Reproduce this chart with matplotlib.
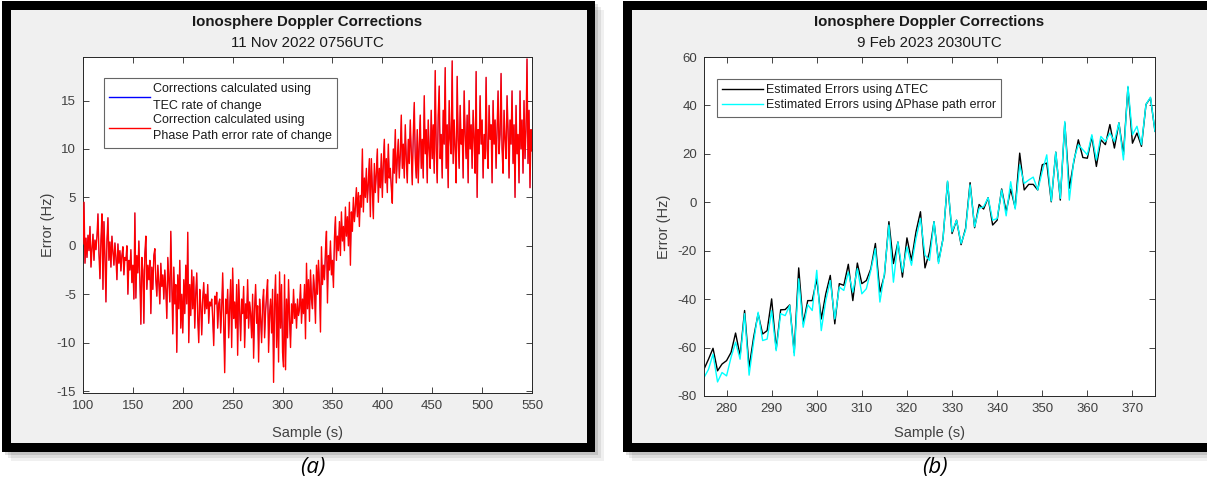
import numpy as np
import matplotlib.pyplot as plt
from matplotlib.patches import Rectangle

plt.rcParams['font.family'] = ['Liberation Sans', 'DejaVu Sans']
plt.rcParams['axes.unicode_minus'] = False

# panel (a): 11 Nov 2022, one sample per second from 100 to 550
samples_a = np.arange(100, 551)
phase_a = [
    0.2, 4.5, -1.8, 0.8, -1.2, 1.1, -0.5, 2.0, -2.2, -0.3,
    1.2, -1.5, 0.6, -0.4, 1.0, 3.3, -0.8, -3.4, 0.6, 3.3,
    -4.5, 2.5, -1.0, -5.8, 0.5, 2.9, -1.5, 0.4, -2.2, 1.0,
    -0.6, -2.0, 0.3, -1.2, -3.5, 0.2, -1.8, -0.5, -2.6, -1.0,
    -0.1, -3.0, -1.2, -1.5, 0.0, -5.0, -1.5, -2.5, -0.4, -3.8,
    -2.0, -5.5, 3.4, -5.4, -1.0, -2.8, 0.5, -3.5, -8.1, -1.2,
    -2.5, -8.0, -0.8, 1.0, -4.5, -2.0, -3.5, -1.5, -7.0, -2.2,
    -4.5, -1.0, -0.3, -3.5, -5.2, -2.0, -3.8, -6.0, -1.8, -4.2,
    -3.0, -5.5, -2.5, -4.5, -7.5, -1.2, -3.5, -5.8, 1.5, -4.0,
    -9.1, -2.2, -6.0, -4.0, -11.0, -3.0, -6.5, -1.5, -8.5, -5.0,
    -9.0, -3.5, -7.0, -2.0, -6.0, 1.4, -10.0, -4.0, -7.2, -2.5,
    -6.5, -3.2, -8.5, -5.0, -2.8, -7.5, -10.0, -4.5, -6.0, -9.2,
    -5.5, -3.8, -7.0, -5.0, -6.5, -4.0, -8.0, -5.8, -6.2, -5.5,
    -7.5, -10.3, -5.2, -6.0, -4.8, -8.5, -6.0, -5.5, -9.0, -6.5,
    -2.8, -8.0, -13.1, -5.5, -7.0, -4.5, -9.5, -6.5, -3.5, -10.5,
    -2.3, -7.5, -5.8, -8.5, -4.0, -11.3, -3.5, -6.8, -9.8, -5.5,
    -7.0, -4.2, -10.5, -6.0, -7.5, -3.5, -8.5, -5.8, -7.0, -9.5,
    -5.0, -11.6, -6.5, -4.0, -8.0, -6.2, -12.0, -5.5, -7.5, -10.0,
    -6.0, -4.5, -9.5, -6.8, -5.0, -3.5, -11.0, -7.0, -5.5, -9.0,
    -4.5, -14.1, -6.0, -3.0, -10.5, -5.0, -12.0, -2.7, -8.5, -4.0,
    -11.0, -12.5, -3.0, -12.8, -5.5, -9.5, -3.5, -7.5, -10.5, -6.0,
    -8.0, -4.5, -7.5, -6.0, -8.5, -5.5, -7.2, -6.5, -4.0, -8.0,
    -5.5, -7.0, -4.0, -9.6, -1.8, -6.5, -3.5, -7.8, -2.5, -5.5,
    -6.5, -3.0, -4.5, -8.0, -2.0, -5.0, -1.5, -4.0, -8.9, -0.1,
    -4.0, -2.0, -3.5, -0.5, 1.5, -5.9, -1.0, -2.5, 0.5, -3.0,
    -1.5, -4.3, 0.8, 3.0, -1.5, 1.0, -0.5, 2.5, -1.0, 3.5,
    0.5, 2.0, -0.5, 4.0, 1.0, 3.0, 0.0, 4.5, -2.0, 3.5,
    1.5, 5.0, 2.5, 4.0, 6.0, 3.0, 5.5, 2.0, 5.2, 4.0,
    10.0, 3.5, 7.0, 5.0, 8.0, 4.5, 6.5, 9.0, 3.0, 9.0,
    6.0, 2.8, 8.5, 5.5, 7.5, 10.0, 4.5, 8.0, 6.0, 9.5,
    5.0, 8.5, 11.0, 6.5, 9.0, 5.5, 10.5, 7.0, 8.0, 6.0,
    4.4, 10.0, 7.5, 12.0, 6.5, 9.0, 11.0, 7.0, 9.5, 13.5,
    8.0, 10.5, 7.0, 12.5, 9.0, 6.5, 11.0, 8.5, 13.0, 9.5,
    6.3, 11.5, 14.8, 9.0, 7.0, 12.0, 6.5, 10.5, 13.5, 8.0,
    11.0, 7.0, 15.5, 9.5, 12.0, 6.5, 13.0, 10.0, 8.0, 14.0,
    9.0, 12.5, 7.5, 18.1, 10.0, 6.5, 13.5, 16.5, 9.0, 11.5,
    7.0, 14.0, 10.5, 18.4, 8.0, 12.5, 6.0, 15.0, 11.0, 9.5,
    19.1, 8.5, 13.0, 10.0, 6.5, 17.5, 11.0, 8.0, 14.5, 10.5,
    12.0, 7.0, 16.0, 11.5, 9.0, 13.5, 6.5, 15.0, 10.0, 12.5,
    8.0, 14.0, 11.0, 7.5, 18.0, 5.0, 12.0, 9.5, 15.5, 10.5,
    13.0, 7.0, 11.5, 9.0, 17.4, 10.0, 8.0, 14.5, 11.0, 12.5,
    6.5, 15.0, 10.5, 13.0, 8.0, 12.0, 16.0, 9.5, 11.5, 17.8,
    10.0, 7.5, 14.0, 11.0, 9.0, 15.5, 12.0, 7.0, 13.0, 10.5,
    16.0, 8.5, 12.5, 5.0, 14.5, 9.5, 11.5, 6.5, 16.0, 10.0,
    13.0, 7.5, 15.0, 9.0, 12.0, 19.3, 8.5, 14.0, 6.0, 12.0,
    9.8,
]
# TEC based corrections sit almost exactly under the phase path ones
tec_a = list(phase_a)

# panel (b): 9 Feb 2023, samples 275 to 375
samples_b = np.arange(275, 376)
tec_b = [
    -68.9, -64.8, -60.3, -69.6, -66.8, -65.4, -62.0, -54.0, -63.4, -44.7,
    -68.2, -55.8, -46.0, -54.4, -53.0, -39.9, -60.6, -44.4, -44.3, -42.4,
    -62.0, -27.1, -50.2, -40.6, -40.6, -31.6, -48.2, -37.8, -30.2, -50.2,
    -33.6, -34.3, -25.6, -40.6, -25.1, -33.6, -32.3, -27.4, -17.0, -37.1,
    -30.2, -8.0, -25.3, -16.4, -30.9, -14.7, -24.0, -12.2, -3.9, -27.1,
    -20.5, -8.0, -24.6, -15.0, 8.5, -12.9, -7.4, -17.5, -10.8, 8.1,
    -10.5, -0.9, -2.8, 1.9, -9.4, -7.4, 5.5, -3.9, 5.4, -2.2,
    20.3, 5.1, 7.4, 7.4, 5.1, 15.5, 16.2, 0.2, 20.7, 0.9,
    32.8, 5.8, 16.8, 25.8, 18.5, 18.2, 27.2, 14.8, 25.8, 23.8,
    32.1, 22.4, 32.8, 19.6, 47.5, 24.4, 28.6, 23.1, 40.4, 43.1,
    29.3,
]
phase_b = [
    -72.4, -69.0, -62.7, -74.2, -70.3, -71.7, -64.0, -57.8, -64.8, -46.0,
    -71.4, -57.8, -45.4, -57.1, -56.5, -44.7, -61.3, -46.0, -46.8, -42.6,
    -63.4, -31.6, -51.6, -42.3, -44.7, -28.1, -53.0, -40.6, -32.3, -48.2,
    -35.0, -36.4, -28.8, -37.1, -27.4, -37.8, -35.7, -28.1, -19.1, -41.2,
    -29.5, -9.4, -33.0, -16.4, -28.8, -18.4, -26.0, -15.0, -6.7, -21.8,
    -24.0, -8.0, -25.3, -15.0, 8.8, -12.2, -7.4, -17.0, -11.5, 7.2,
    -10.1, -2.5, -1.8, 1.9, -7.4, -6.7, 5.1, -5.6, 8.5, -2.8,
    15.4, 7.8, 9.2, 10.4, 5.1, 12.7, 19.6, 0.5, 20.7, 1.6,
    33.4, 0.9, 17.5, 23.8, 21.7, 19.6, 27.9, 17.5, 27.2, 25.1,
    28.6, 25.1, 32.8, 17.5, 47.9, 27.9, 31.4, 23.8, 40.4, 43.4,
    29.3,
]

W, H = 1207, 488
fig = plt.figure(figsize=(W / 100, H / 100), dpi=100, facecolor='white')


def box(x0, y0, x1, y1):
    # pixel box (top-left origin) -> figure fraction rect
    return [x0 / W, 1 - y1 / H, (x1 - x0) / W, (y1 - y0) / H]


def rect(x0, y0, x1, y1, color, z, alpha=1.0):
    l, b, w, h = box(x0, y0, x1, y1)
    fig.add_artist(Rectangle((l, b), w, h, transform=fig.transFigure,
                             facecolor=color, edgecolor='none', alpha=alpha, zorder=z))


def frame(x0, y0, x1, y1):
    # drop shadow, thick black border, matlab grey window
    for k, a in [(9, 0.06), (6, 0.08), (3, 0.12)]:
        rect(x0 + k, y0 + k, x1 + k, y1 + k, 'black', -10, a)
    rect(x0, y0, x1, y1, 'black', -9)
    rect(x0 + 9, y0 + 9, x1 - 8, y1 - 9, '#f0f0f0', -8)


frame(2, 1, 595, 452)
frame(623, 1, 1230, 452)

dark = '#262626'


def style(ax):
    ax.set_facecolor('white')
    for s in ax.spines.values():
        s.set_color(dark)
        s.set_linewidth(0.7)
    ax.tick_params(direction='in', top=True, right=True, length=4, width=0.6,
                   colors=dark, labelsize=9.5, pad=5)
    for lab in ax.get_xticklabels() + ax.get_yticklabels():
        lab.set_color('#404040')


def legend(ax, anchor, spacing, pad, size):
    leg = ax.legend(loc='upper left', bbox_to_anchor=anchor, borderaxespad=0,
                    fontsize=size, frameon=True, fancybox=False, edgecolor='#404040',
                    handlelength=3.3, handletextpad=0.25, borderpad=pad,
                    labelspacing=spacing)
    leg.get_frame().set_linewidth(0.8)
    for t in leg.get_texts():
        t.set_linespacing(1.5)
        t.set_color('#1a1a1a')
    return leg


ax1 = fig.add_axes(box(83, 57, 532, 393))
ax1.plot(samples_a, tec_a, color='blue', lw=0.4, zorder=2,
         label='Corrections calculated using\nTEC rate of change')
ax1.plot(samples_a, phase_a, color='red', lw=1.0, zorder=3,
         label='Correction calculated using\nPhase Path error rate of change')
ax1.set_xlim(100, 550)
ax1.set_ylim(-15.2, 19.5)
ax1.set_xticks(np.arange(100, 551, 50))
ax1.set_yticks(np.arange(-15, 16, 5))
style(ax1)
leg1 = legend(ax1, (0.047, 0.9375), 0.2, 0.4, 9)
leg1.get_lines()[0].set_linewidth(1.0)

ax2 = fig.add_axes(box(704, 57, 1155, 396))
ax2.plot(samples_b, tec_b, color='black', lw=1.0, label='Estimated Errors using ΔTEC')
ax2.plot(samples_b, phase_b, color='cyan', lw=1.0,
         label='Estimated Errors using ΔPhase path error')
ax2.set_xlim(275, 375)
ax2.set_ylim(-80, 60)
ax2.set_xticks(np.arange(280, 371, 10))
ax2.set_yticks(np.arange(-80, 61, 20))
style(ax2)
legend(ax2, (0.029, 0.935), 0.25, 0.42, 8.9)

for ax, cx, xl_y, yl_x, sub in [(ax1, 307.5, 433, 48, '11 Nov 2022 0756UTC'),
                                (ax2, 929.5, 433, 664, '9 Feb 2023 2030UTC')]:
    ax.set_xlabel('Sample (s)', fontsize=10.5, color='#404040', va='center')
    ax.set_ylabel('Error (Hz)', fontsize=10.5, color='#404040', va='center')
    pos = ax.get_position()
    ax.xaxis.set_label_coords(0.5, 1 - ((xl_y / H) - (1 - pos.y1)) / pos.height)
    ax.yaxis.set_label_coords((yl_x / W - pos.x0) / pos.width, 0.5)
    fig.text(cx / W, 1 - 22 / H, 'Ionosphere Doppler Corrections', ha='center', va='center',
             fontsize=10.8, fontweight='bold', color='#1a1a1a')
    fig.text(cx / W, 1 - 43 / H, sub, ha='center', va='center', fontsize=10.8, color='#1a1a1a')

fig.text(313 / W, 1 - 468 / H, '(a)', ha='center', va='center', fontsize=16,
         style='italic', family=['Open Sans', 'DejaVu Sans'], color='black')
fig.text(935 / W, 1 - 468 / H, '(b)', ha='center', va='center', fontsize=16,
         style='italic', family=['Open Sans', 'DejaVu Sans'], color='black')

fig.savefig('out.png', dpi=100, facecolor='white')
